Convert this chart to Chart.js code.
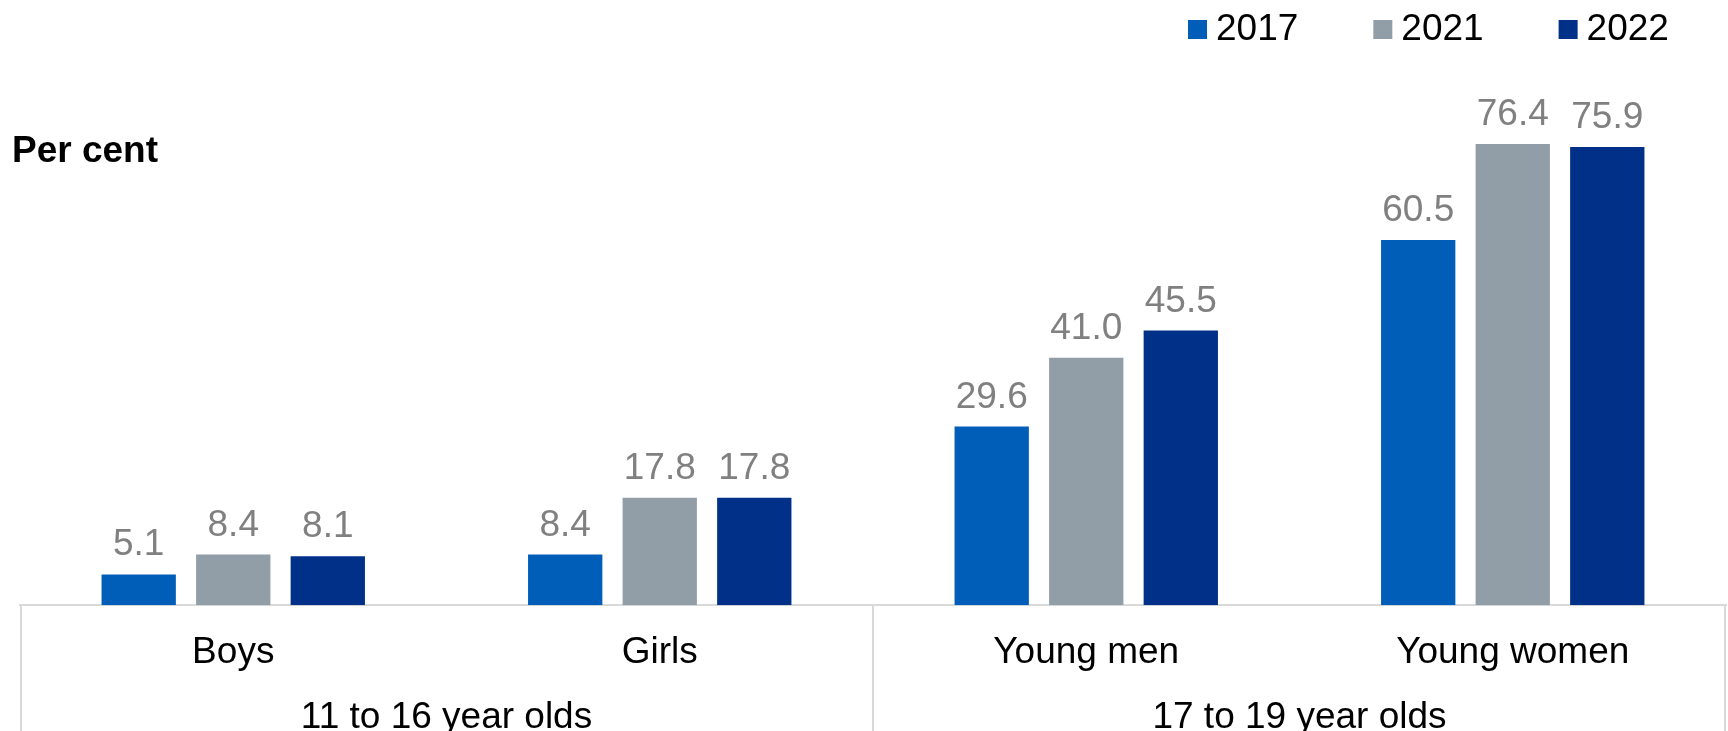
<!DOCTYPE html>
<html>
<head>
<meta charset="utf-8">
<script src="https://cdn.jsdelivr.net/npm/chart.js@4"></script>
<style>
  html, body { margin: 0; padding: 0; background: #fff; overflow: hidden; height: 731px; }
  #wrap { width: 1728px; height: 740px; }
</style>
</head>
<body>
<div id="wrap"><canvas id="smokeChart"></canvas></div>
<script>
// Values (per cent)
const categories = ['Boys', 'Girls', 'Young men', 'Young women'];
const ageGroups = ['11 to 16 year olds', '17 to 19 year olds'];
const years = ['2017', '2021', '2022'];
const values2017 = [5.1, 8.4, 29.6, 60.5];
const values2021 = [8.4, 17.8, 41.0, 76.4];
const values2022 = [8.1, 17.8, 45.5, 75.9];

const FONT = "'Liberation Sans', Arial, sans-serif";
const lineGrey = '#d9d9d9';

// value labels above each bar
const barLabels = {
  id: 'barLabels',
  afterDatasetsDraw(chart) {
    const ctx = chart.ctx;
    ctx.save();
    ctx.font = '37px ' + FONT;
    ctx.fillStyle = '#808080';
    ctx.textAlign = 'center';
    ctx.textBaseline = 'alphabetic';
    chart.data.datasets.forEach((ds, i) => {
      chart.getDatasetMeta(i).data.forEach((bar, j) => {
        ctx.fillText(ds.data[j].toFixed(1), bar.x, bar.y - 19);
      });
    });
    ctx.restore();
  }
};

// legend at top right, "Per cent" label and the group separators under the axis
const extras = {
  id: 'extras',
  afterDraw(chart) {
    const ctx = chart.ctx;
    const x = chart.scales.x;
    const area = chart.chartArea;
    ctx.save();

    // vertical separators for the two age groups
    ctx.strokeStyle = lineGrey;
    ctx.lineWidth = 2;
    const mid = (x.getPixelForValue(1) + x.getPixelForValue(2)) / 2;
    [x.left + 1, mid, x.right - 1].forEach(px => {
      ctx.beginPath();
      ctx.moveTo(px, area.bottom);
      ctx.lineTo(px, chart.height);
      ctx.stroke();
    });

    // "Per cent"
    ctx.font = 'bold 37px ' + FONT;
    ctx.fillStyle = '#000';
    ctx.textAlign = 'left';
    ctx.textBaseline = 'alphabetic';
    ctx.fillText('Per cent', 12, 162);

    // legend
    ctx.font = '37px ' + FONT;
    const box = 19, gapText = 9, gapItem = 75;
    let lx = 1188;
    chart.data.datasets.forEach(ds => {
      ctx.fillStyle = ds.backgroundColor;
      ctx.fillRect(lx, 20, box, box);
      ctx.fillStyle = '#000';
      ctx.fillText(ds.label, lx + box + gapText, 40);
      lx += box + gapText + ctx.measureText(ds.label).width + gapItem;
    });
    ctx.restore();
  }
};

const ctx = document.getElementById('smokeChart').getContext('2d');

new Chart(ctx, {
  type: 'bar',
  data: {
    labels: categories,
    datasets: [
      { label: years[0], data: values2017, backgroundColor: '#005eb8' },
      { label: years[1], data: values2021, backgroundColor: '#929ea7' },
      { label: years[2], data: values2022, backgroundColor: '#003087' }
    ]
  },
  options: {
    responsive: true,
    maintainAspectRatio: false,
    animation: false,
    categoryPercentage: 0.665,
    barPercentage: 0.786,
    layout: {
      padding: { top: 62, left: 20, right: 2, bottom: 0 }
    },
    plugins: {
      legend: { display: false },
      tooltip: { enabled: false }
    },
    scales: {
      y: {
        display: false,
        min: 0,
        max: 90
      },
      x: {
        position: 'bottom',
        // grid hidden; tickLength only spaces the labels
        grid: { display: false, drawTicks: true, tickLength: 25 },
        border: { display: true, color: lineGrey, width: 2 },
        ticks: {
          color: '#000',
          padding: 0,
          font: { family: FONT, size: 37 }
        }
      },
      groups: {
        type: 'category',
        position: 'bottom',
        labels: ageGroups,
        offset: true,
        grid: { display: false, drawTicks: true, tickLength: 21 },
        border: { display: false },
        ticks: {
          color: '#000',
          padding: 0,
          font: { family: FONT, size: 37 }
        }
      }
    }
  },
  plugins: [barLabels, extras]
});
</script>
</body>
</html>
